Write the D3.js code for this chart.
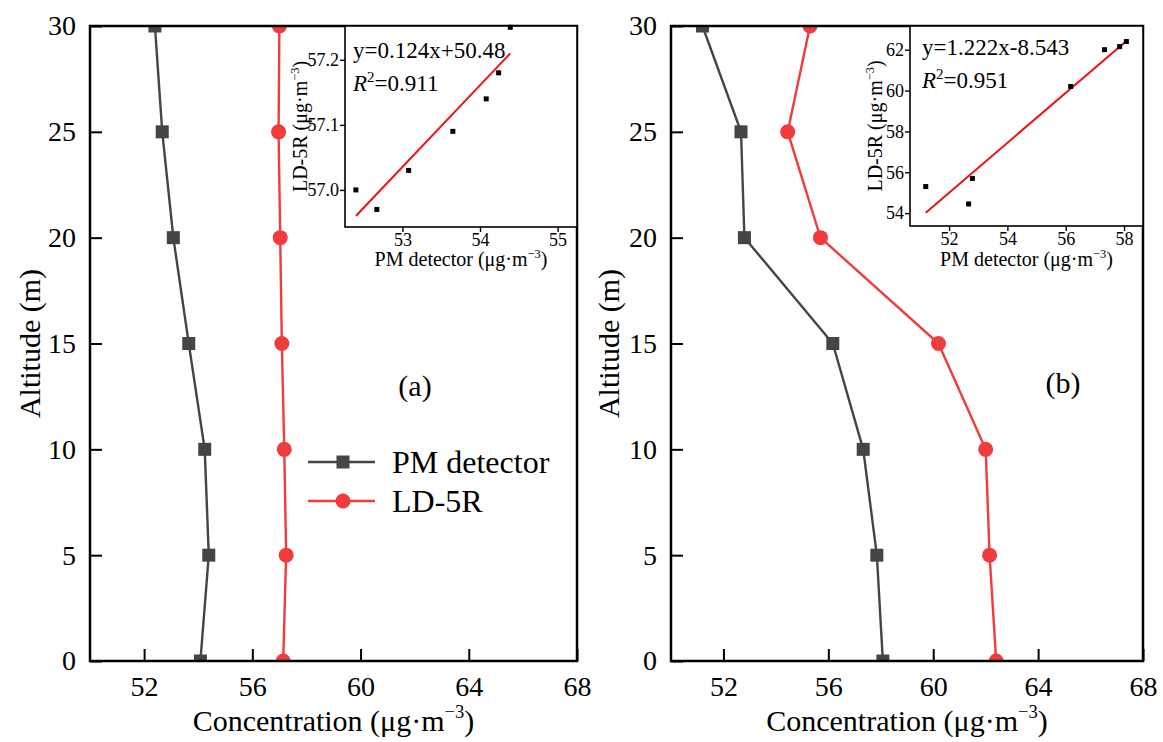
<!DOCTYPE html>
<html>
<head>
<meta charset="utf-8">
<script src="https://cdn.jsdelivr.net/npm/d3@7"></script>
<style>
body { margin: 0; background: #fff; }
</style>
</head>
<body>
<svg width="1163" height="742"></svg>
<script>
// altitude levels (m)
var altitudes = [0, 5, 10, 15, 20, 25, 30];
var altTicks = [0, 5, 10, 15, 20, 25, 30];
var concTicks = [52, 56, 60, 64, 68];

// panel (a)
var pmA = [54.08, 54.39, 54.24, 53.65, 53.08, 52.67, 52.40];
var ldA = [57.14, 57.25, 57.18, 57.09, 57.03, 56.97, 57.00];
// panel (b)
var pmB = [58.08, 57.85, 57.33, 56.17, 52.80, 52.67, 51.20];
var ldB = [62.40, 62.15, 62.00, 60.20, 55.70, 54.45, 55.30];

// inset fit lines, end points
var fitA = [[52.40, 56.96], [54.39, 57.21]];
var fitB = [[51.20, 54.02], [58.08, 62.43]];

var eqA = ["y=0.124x+50.48", "0.911"];
var eqB = ["y=1.222x-8.543", "0.951"];

var serif = "'Liberation Serif', 'Times New Roman', Times, 'DejaVu Serif', serif";
var gray = "#454545", red = "#f03c3c";

var svg = d3.select("svg")
    .attr("font-family", serif)
    .style("font-family", serif);

function titleWithUnit(sel, label, size) {
    sel.append("tspan").text(label + " (\u03bcg\u00b7m");
    sel.append("tspan").attr("font-size", size * 0.62).attr("dy", -size * 0.42).text("\u22123");
    sel.append("tspan").attr("dy", size * 0.42).text(")");
}

function styleAxis(a, width, size) {
    a.attr("font-family", null).attr("font-size", size);
    a.select(".domain").remove();
    a.selectAll("line").attr("stroke", "#000").attr("stroke-width", width);
    a.selectAll("text").attr("fill", "#000");
}

function drawPanel(p) {
    var x = d3.scaleLinear().domain([50, 68]).range([p.left, p.right]);
    var y = d3.scaleLinear().domain([0, 30]).range([p.bottom, p.top]);
    var g = svg.append("g");

    g.append("clipPath").attr("id", "clip" + p.id)
        .append("rect")
        .attr("x", p.left).attr("y", p.top)
        .attr("width", p.right - p.left).attr("height", p.bottom - p.top);

    var plot = g.append("g").attr("clip-path", "url(#clip" + p.id + ")");

    var series = [
        {vals: p.pm, color: gray, shape: "square"},
        {vals: p.ld, color: red, shape: "circle"}
    ];
    series.forEach(function(s) {
        var pts = altitudes.map(function(a, i) { return [s.vals[i], a]; });
        plot.append("path")
            .attr("d", d3.line().x(function(d) { return x(d[0]); }).y(function(d) { return y(d[1]); })(pts))
            .attr("fill", "none").attr("stroke", s.color).attr("stroke-width", 2.4);
        if (s.shape == "square") {
            plot.selectAll(null).data(pts).enter().append("rect")
                .attr("x", function(d) { return x(d[0]) - 6.5; })
                .attr("y", function(d) { return y(d[1]) - 6.5; })
                .attr("width", 13).attr("height", 13)
                .attr("fill", s.color);
        } else {
            plot.selectAll(null).data(pts).enter().append("circle")
                .attr("cx", function(d) { return x(d[0]); })
                .attr("cy", function(d) { return y(d[1]); })
                .attr("r", 7.5).attr("fill", s.color);
        }
    });

    // axes, ticks inward
    var xa = g.append("g").attr("transform", "translate(0," + p.bottom + ")")
        .call(d3.axisBottom(x).tickValues(concTicks).tickSizeInner(-12).tickSizeOuter(0).tickPadding(15));
    var ya = g.append("g").attr("transform", "translate(" + p.left + ",0)")
        .call(d3.axisLeft(y).tickValues(altTicks).tickSizeInner(-12).tickSizeOuter(0).tickPadding(14));
    styleAxis(xa, 2, 28);
    styleAxis(ya, 2, 28);

    g.append("rect")
        .attr("x", p.left).attr("y", p.top)
        .attr("width", p.right - p.left).attr("height", p.bottom - p.top)
        .attr("fill", "none").attr("stroke", "#000").attr("stroke-width", 2.5);

    g.append("text")
        .attr("x", (p.left + p.right) / 2).attr("y", 731)
        .attr("text-anchor", "middle").attr("font-size", 30)
        .call(titleWithUnit, "Concentration", 30);

    g.append("text")
        .attr("transform", "translate(" + p.ytitleX + "," + (p.top + p.bottom) / 2 + ") rotate(-90)")
        .attr("text-anchor", "middle").attr("font-size", 30)
        .text("Altitude (m)");

    g.append("text")
        .attr("x", p.tagX).attr("y", p.tagY)
        .attr("text-anchor", "middle").attr("font-size", 30)
        .text(p.tag);

    drawInset(p.inset);
}

function drawInset(s) {
    var x = d3.scaleLinear().domain(s.xDomain).range([s.left, s.right]);
    var y = d3.scaleLinear().domain(s.yDomain).range([s.bottom, s.top]);
    var g = svg.append("g");

    g.append("rect")
        .attr("x", s.left).attr("y", s.top)
        .attr("width", s.right - s.left).attr("height", s.bottom - s.top)
        .attr("fill", "#fff").attr("stroke", "#000").attr("stroke-width", 1.6);

    var pts = s.px.map(function(v, i) { return [v, s.py[i]]; });

    g.append("path")
        .attr("d", d3.line().x(function(d) { return x(d[0]); }).y(function(d) { return y(d[1]); })(s.fit))
        .attr("fill", "none").attr("stroke", "#ee1111").attr("stroke-width", 2);

    g.selectAll(null).data(pts).enter().append("rect")
        .attr("x", function(d) { return x(d[0]) - 2.5; })
        .attr("y", function(d) { return y(d[1]) - 2.5; })
        .attr("width", 5).attr("height", 5)
        .attr("fill", "#000");

    var xa = g.append("g").attr("transform", "translate(0," + s.bottom + ")")
        .call(d3.axisBottom(x).tickValues(s.xTicks).tickSizeInner(5).tickSizeOuter(0).tickPadding(1).tickFormat(d3.format("d")));
    var ya = g.append("g").attr("transform", "translate(" + s.left + ",0)")
        .call(d3.axisLeft(y).tickValues(s.yTicks).tickSizeInner(5).tickSizeOuter(0).tickPadding(1).tickFormat(d3.format(s.yFmt)));
    styleAxis(xa, 1.4, 18);
    styleAxis(ya, 1.4, 18);

    g.append("text")
        .attr("x", (s.left + s.right) / 2).attr("y", 266)
        .attr("text-anchor", "middle").attr("font-size", 20)
        .call(titleWithUnit, "PM detector", 20);

    g.append("text")
        .attr("transform", "translate(" + s.ytitleX + "," + (s.top + s.bottom) / 2 + ") rotate(-90)")
        .attr("text-anchor", "middle").attr("font-size", 20)
        .call(titleWithUnit, "LD-5R", 20);

    g.append("text").attr("x", s.eqX).attr("y", s.eqY).attr("font-size", 23).text(s.eq[0]);
    var r2 = g.append("text").attr("x", s.eqX).attr("y", s.eqY + 33).attr("font-size", 23);
    r2.append("tspan").attr("font-style", "italic").text("R");
    r2.append("tspan").attr("font-size", 15).attr("dy", -9).text("2");
    r2.append("tspan").attr("dy", 9).text("=" + s.eq[1]);
}

drawPanel({
    id: "a", left: 90, right: 577, top: 26, bottom: 661,
    pm: pmA, ld: ldA, ytitleX: 40, tag: "(a)", tagX: 415, tagY: 396,
    inset: {
        left: 345, right: 577, top: 26, bottom: 227,
        xDomain: [52.26, 55.25], yDomain: [56.943, 57.252],
        xTicks: [53, 54, 55], yTicks: [57.0, 57.1, 57.2], yFmt: ".1f",
        px: pmA, py: ldA, fit: fitA, eq: eqA,
        ytitleX: 307, eqX: 353, eqY: 58
    }
});

drawPanel({
    id: "b", left: 671, right: 1143, top: 26, bottom: 661,
    pm: pmB, ld: ldB, ytitleX: 619, tag: "(b)", tagX: 1063, tagY: 393,
    inset: {
        left: 910, right: 1143, top: 26, bottom: 226,
        xDomain: [50.66, 58.65], yDomain: [53.37, 63.16],
        xTicks: [52, 54, 56, 58], yTicks: [54, 56, 58, 60, 62], yFmt: "d",
        px: pmB, py: ldB, fit: fitB, eq: eqB,
        ytitleX: 882, eqX: 922, eqY: 55
    }
});

// legend in panel (a)
var legend = [
    {name: "PM detector", color: gray, shape: "square"},
    {name: "LD-5R", color: red, shape: "circle"}
];
var lg = svg.append("g").attr("transform", "translate(308,462)");
legend.forEach(function(d, i) {
    var row = lg.append("g").attr("transform", "translate(0," + i * 39 + ")");
    row.append("line").attr("x1", 0).attr("x2", 67).attr("stroke", d.color).attr("stroke-width", 2.4);
    if (d.shape == "square") {
        row.append("rect").attr("x", 35 - 6.5).attr("y", -6.5).attr("width", 13).attr("height", 13).attr("fill", d.color);
    } else {
        row.append("circle").attr("cx", 35).attr("r", 7.5).attr("fill", d.color);
    }
    row.append("text").attr("x", 84).attr("y", 11).attr("font-size", 32).text(d.name);
});
</script>
</body>
</html>
